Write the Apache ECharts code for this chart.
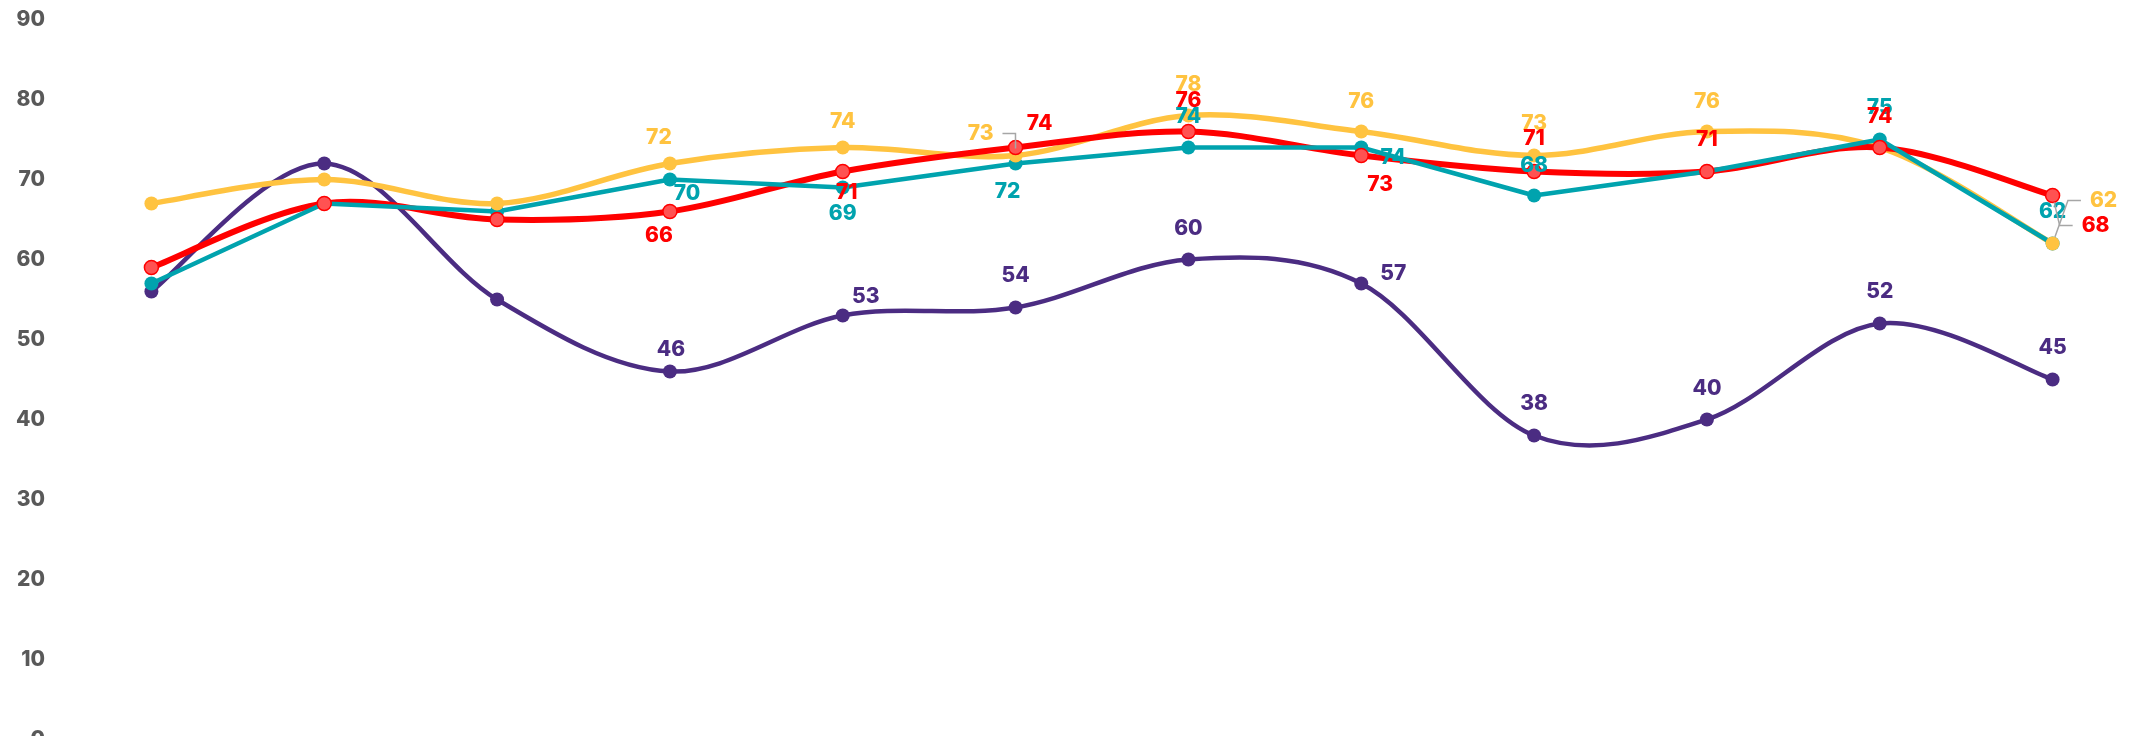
<!DOCTYPE html>
<html>
<head>
<meta charset="utf-8">
<title>Line chart</title>
<script src="https://cdn.jsdelivr.net/npm/echarts@6/dist/echarts.min.js"></script>
<style>
  html, body { margin: 0; padding: 0; background: #ffffff; overflow: hidden; }
  #chart { width: 2139px; height: 760px; }
</style>
</head>
<body>
<div id="chart"></div>
<script>
// Categories along the x axis (not labelled on the chart)
const categories = ['Jan', 'Feb', 'Mar', 'Apr', 'May', 'Jun', 'Jul', 'Aug', 'Sep', 'Oct', 'Nov', 'Dec'];

// Series values
const purpleValues = [56, 72, 55, 46, 53, 54, 60, 57, 38, 40, 52, 45];
const tealValues   = [57, 67, 66, 70, 69, 72, 74, 74, 68, 71, 75, 62];
const yellowValues = [67, 70, 67, 72, 74, 73, 78, 76, 73, 76, 74, 62];
const redValues    = [59, 67, 65, 66, 71, 74, 76, 73, 71, 71, 74, 68];

// Y axis ticks
const yTicks = { min: 0, max: 90, interval: 10 };

// Label placement (offset from the marker centre, px); null = no label
const labelPlacement = {
  purple: [null, null, null, [1, -22], [23, -19], [0, -32], [0, -31], [32, -10], [0, -32], [0, -31], [0, -32], [0, -32]],
  teal:   [null, null, null, [17, 14], [0, 26], [-8, 28], [0, -31], [32, 10], [0, -30], null, [0, -32], [0, -32]],
  yellow: [null, null, null, [-11, -26], [0, -26], [-35, -22], [0, -31], [0, -30], [0, -32], [0, -30], null, [51, -43]],
  red:    [null, null, null, [-11, 24], [4, 21], [24, -24], [0, -31], [19, 29], [0, -33], [0, -32], [0, -31], [43, 30]]
};
// Labels pulled away from their marker, joined to it by a guide line
const guidedLabels = { yellow: [5, 11], red: [11] };

const FONT = 'Inter, "Liberation Sans", Arial, sans-serif';
const FONT_WEIGHT = 800;
const LABEL_SIZE = 21;
const SYMBOL_SIZE = 14;

const COLORS = {
  purple: '#4B2C82',
  teal: '#00A3AE',
  yellow: '#FFC340',
  red: '#FF0000',
  redFill: '#FF5252',
  guide: '#a6a6a6',
  axis: '#595959'
};

function buildData(values, placement) {
  return values.map(function (v, i) {
    const off = placement[i];
    if (!off) return { value: v, label: { show: false } };
    return { value: v, label: { show: true, offset: off } };
  });
}

// Markers + value labels of one series (its own polyline is drawn only when not smoothed)
function makeSeries(name, values, key, opts) {
  return {
    name: name,
    type: 'line',
    symbol: 'circle',
    symbolSize: SYMBOL_SIZE,
    color: opts.line,
    lineStyle: opts.smooth ? { opacity: 0, width: 0 } : { color: opts.line, width: opts.width },
    itemStyle: {
      color: opts.fill || opts.line,
      borderColor: opts.line,
      borderWidth: opts.border || 0
    },
    label: {
      show: true,
      position: 'inside',
      color: opts.line,
      fontFamily: FONT,
      fontSize: LABEL_SIZE,
      fontWeight: FONT_WEIGHT,
      textBorderWidth: 0
    },
    emphasis: { disabled: true },
    data: buildData(values, labelPlacement[key])
  };
}

// Smoothed line through the points (Catmull-Rom, one bezier segment per data interval)
function makeCurve(name, values, color, width) {
  const n = values.length;
  return {
    name: name,
    type: 'custom',
    silent: true,
    encode: { x: 0, y: 1 },
    data: values.map(function (v, i) { return [i, v]; }),
    renderItem: function (params, api) {
      const i = params.dataIndex;
      if (i >= n - 1) return null;
      const pt = function (k) {
        k = Math.max(0, Math.min(n - 1, k));
        return api.coord([k, values[k]]);
      };
      const p0 = pt(i - 1), p1 = pt(i), p2 = pt(i + 1), p3 = pt(i + 2);
      return {
        type: 'bezierCurve',
        shape: {
          x1: p1[0], y1: p1[1],
          x2: p2[0], y2: p2[1],
          cpx1: p1[0] + (p2[0] - p0[0]) / 6,
          cpy1: p1[1] + (p2[1] - p0[1]) / 6,
          cpx2: p2[0] - (p3[0] - p1[0]) / 6,
          cpy2: p2[1] - (p3[1] - p1[1]) / 6
        },
        style: { stroke: color, lineWidth: width, fill: null, lineCap: 'round' }
      };
    }
  };
}

// Guide line data: [categoryIndex, value, labelDx, labelDy, labelHalfWidth]
const measureCtx = document.createElement('canvas').getContext('2d');
measureCtx.font = FONT_WEIGHT + ' ' + LABEL_SIZE + 'px ' + FONT;
const seriesValues = { yellow: yellowValues, red: redValues };
const guideData = [];
Object.keys(guidedLabels).forEach(function (key) {
  guidedLabels[key].forEach(function (i) {
    const v = seriesValues[key][i];
    const off = labelPlacement[key][i];
    guideData.push([i, v, off[0], off[1], measureCtx.measureText(String(v)).width / 2]);
  });
});

const GUIDE_GAP = 9;     // space between the text and where the guide ends
const GUIDE_LEN2 = 13;   // horizontal run of the guide next to the label

function renderGuide(params, api) {
  const p = api.coord([api.value(0), api.value(1)]);
  const cx = p[0] + api.value(2);
  const cy = p[1] + api.value(3);
  const hw = api.value(4);
  const side = api.value(2) > 0 ? -1 : 1;
  const ax = cx + side * (hw + GUIDE_GAP);
  const bx = ax + side * GUIDE_LEN2;
  const vx = bx - p[0];
  const vy = cy - p[1];
  const d = Math.sqrt(vx * vx + vy * vy) || 1;
  const r = SYMBOL_SIZE / 2;
  return {
    type: 'polyline',
    shape: { points: [[p[0] + vx / d * r, p[1] + vy / d * r], [bx, cy], [ax, cy]] },
    style: { stroke: COLORS.guide, lineWidth: 1.5, fill: null }
  };
}

const chart = echarts.init(document.getElementById('chart'), null, { renderer: 'canvas' });

chart.setOption({
  animation: false,
  backgroundColor: '#ffffff',
  grid: { left: 65, right: 0, top: 19.5, height: 720, containLabel: false },
  xAxis: {
    type: 'category',
    data: categories,
    boundaryGap: true,
    axisLine: { show: false },
    axisTick: { show: false },
    axisLabel: { show: false },
    splitLine: { show: false }
  },
  yAxis: {
    type: 'value',
    min: yTicks.min,
    max: yTicks.max,
    interval: yTicks.interval,
    axisLine: { show: false },
    axisTick: { show: false },
    splitLine: { show: false },
    axisLabel: {
      color: COLORS.axis,
      fontFamily: FONT,
      fontSize: LABEL_SIZE,
      fontWeight: FONT_WEIGHT,
      margin: 20
    }
  },
  series: [
    makeCurve('Series 1 line', purpleValues, COLORS.purple, 4.5),
    makeSeries('Series 1', purpleValues, 'purple', { line: COLORS.purple, smooth: true }),
    makeSeries('Series 2', tealValues, 'teal', { line: COLORS.teal, width: 4.5, smooth: false }),
    makeCurve('Series 3 line', yellowValues, COLORS.yellow, 5.5),
    makeSeries('Series 3', yellowValues, 'yellow', { line: COLORS.yellow, smooth: true }),
    makeCurve('Series 4 line', redValues, COLORS.red, 6),
    makeSeries('Series 4', redValues, 'red', { line: COLORS.red, fill: COLORS.redFill, border: 1.5, smooth: true }),
    {
      name: 'guides',
      type: 'custom',
      z: 10,
      silent: true,
      encode: { x: 0, y: 1 },
      renderItem: renderGuide,
      data: guideData
    }
  ]
});
</script>
</body>
</html>
